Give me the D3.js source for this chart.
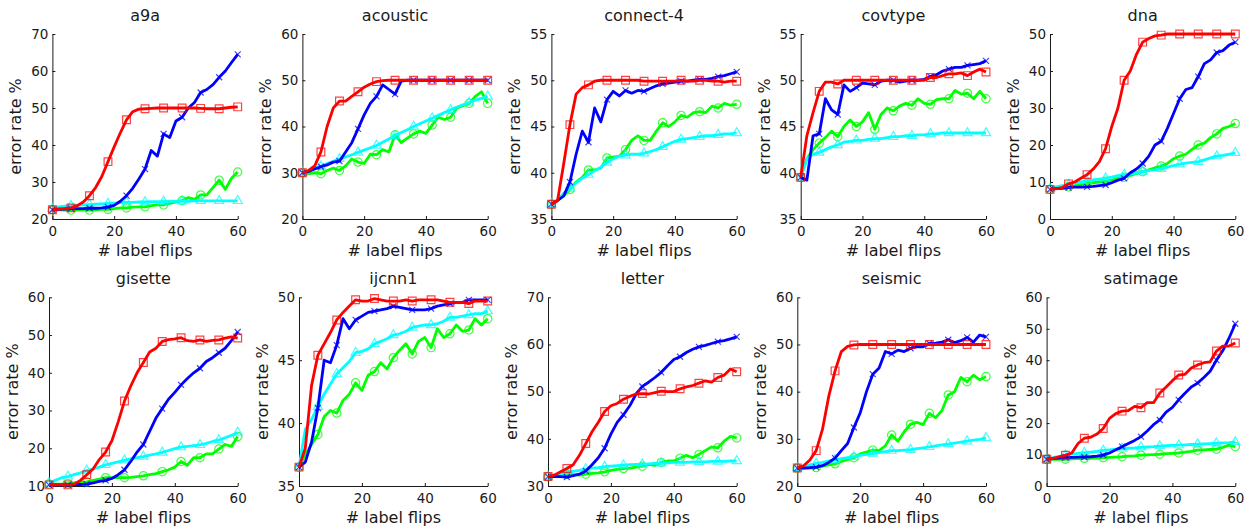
<!DOCTYPE html>
<html>
<head>
<meta charset="utf-8">
<script src="https://cdn.jsdelivr.net/npm/d3@7"></script>
<style>
body { margin: 0; background: #fff; }
</style>
</head>
<body>
<div id="chart"></div>
<script>
const width = 1253
const height = 529

// x values (number of label flips), one sample every 2 flips
const flips = [0, 2, 4, 6, 8, 10, 12, 14, 16, 18, 20, 22, 24, 26, 28, 30,
    32, 34, 36, 38, 40, 42, 44, 46, 48, 50, 52, 54, 56, 58, 60]
const xTicks = [0, 20, 40, 60]

const datasets = ["a9a", "acoustic", "connect-4", "covtype", "dna",
    "gisette", "ijcnn1", "letter", "seismic", "satimage"]
const yDomains = [[20, 70], [20, 60], [35, 55], [35, 55], [0, 50],
    [10, 60], [35, 50], [30, 70], [20, 60], [0, 60]]
const yTicks = [
    [20, 30, 40, 50, 60, 70],
    [20, 30, 40, 50, 60],
    [35, 40, 45, 50, 55],
    [35, 40, 45, 50, 55],
    [0, 10, 20, 30, 40, 50],
    [10, 20, 30, 40, 50, 60],
    [35, 40, 45, 50],
    [30, 40, 50, 60, 70],
    [20, 30, 40, 50, 60],
    [0, 10, 20, 30, 40, 50, 60],
]

// red squares, one row per dataset
const redSeries = [
    [22.5,22.7,22.8,23.0,23.6,24.6,26.3,28.5,31.5,35.5,39.5,43.3,46.8,49.0,49.7,49.8,49.9,50,50,50,50,50,50,50,49.9,49.8,49.8,49.8,50,50.2,50.3],
    [30,30.5,31.5,34.5,40,44,45.5,45.5,46.5,47.5,48.5,49.2,49.7,49.9,50,50,50,50,50,50,50,50,50,50,50,50,50,50,50,50,50],
    [36.6,37,41,45.2,48.5,49.2,49.5,49.9,50,50,50,50,50,50,50,49.9,49.9,49.9,49.9,49.9,49.9,50,49.9,49.9,50,50,49.9,49.9,49.8,49.9,49.9],
    [39.5,44,46.5,48.8,49.8,49.8,49.6,50,50,50,50,50,50,50,50,50,50,50,50,50,50,50.3,50.3,50.5,50.7,50.7,50.8,50.5,50.9,51.2,50.9],
    [8,8.2,8.5,9.5,10,11,12,13.5,15.5,19,25,30,37.5,40,44.5,47.8,48.8,49.5,49.7,50,50,50,50,50,50,50,50,50,50,50,50],
    [10.3,10.3,10.3,10.3,10.5,11.5,13,14.5,17,19,22,27,32.5,36.5,40,42.7,45.5,46.5,48.3,48.8,49,49.3,48.5,48.3,48.7,48.3,48.6,48.7,49.2,49.5,49.2],
    [36.5,38,43,45.4,46.3,47.2,48.2,48.8,49.3,49.8,49.7,49.7,49.9,49.8,49.7,49.7,49.7,49.8,49.7,49.8,49.8,49.8,49.8,49.7,49.6,49.6,49.6,49.5,49.7,49.7,49.7],
    [32,32.3,33,33.7,34.5,36.5,39,41.5,43.5,45.8,47,47.5,48.4,49,49.5,49.6,49.5,49.8,50.1,50,50,50.6,51,51.3,51.8,52.3,52,53,53.5,54.8,54.2],
    [23.8,24.3,25.5,27.5,32,39,44.4,48.5,49.6,49.9,50,50,50,50,50,50,50,50,50,50,50,50,50,50,50,50,50,50,50,50,50],
    [8.5,8.8,9.3,9.8,10.5,13.5,15.2,15.5,16.5,18.3,21.5,23,23.8,24,25.3,24.9,26.5,26.5,29.6,31.5,33.5,35.3,35.5,37.5,38.5,39.2,39.5,42.9,44.5,44.5,45.5],
]

// blue crosses
const blueSeries = [
    [22.5,22.6,22.7,22.8,22.8,22.8,22.9,22.9,23,23.2,23.7,24.8,26.3,28.3,30.8,33.5,38.5,37,43,42,46.5,47.5,50,51.5,54.2,55,56.3,58.3,60,62.3,64.5],
    [30,30.3,30.8,31.3,31.7,32.3,32.5,34.5,36.5,39.5,42.5,45,46.5,49,48,47,49.8,50,50,50,50,50,50,50,50,50,50,50,50,50,50],
    [36.6,37,37.5,39,42,44.5,43.3,47,45.5,47.9,48.8,48.3,48.9,48.6,48.9,48.8,49.1,49.4,49.6,49.7,49.8,49.9,49.9,50,50.1,50.1,50.2,50.4,50.5,50.7,50.9],
    [39.5,39.2,44,44.2,48,46.8,46.3,49.5,48.8,49.2,49.7,49.6,49.5,49.9,50,50,49.8,49.9,50,50,50.1,50.4,50.6,51,51.2,51.4,51.4,51.6,51.7,51.8,52.1],
    [8,8.2,8.3,8.5,8.6,8.6,8.7,8.8,9,9.2,9.8,10.5,11,12.5,13.5,15,17,20,21,24.5,28.5,32.5,35,35.5,38.5,42,43,45,45.5,47,47.8],
    [10.3,10.3,10.3,10.3,10.4,10.4,10.5,10.8,11.2,11.5,12,13,14.3,16.5,19,21,24.5,28,30.5,33,34.8,36.8,38.5,40,41.2,43,44,45.3,46.5,48.5,50.8],
    [36.5,36.9,38.5,41.2,45,44.8,46.2,48.3,47.5,48.2,48.5,48.8,48.9,49,49.1,49.3,49.2,49.1,49,49,49,49.1,49.3,49.4,49.5,49.6,49.6,49.8,49.8,49.8,49.8],
    [32,32,32,31.9,32.2,32.5,33.2,34.5,36,38,41,43.5,45.1,47,49.5,51.1,52,53,54.1,55.5,56.8,57.4,58.3,59,59.5,59.8,60.2,60.6,60.8,61.2,61.6],
    [23.8,23.8,23.9,24,24.3,25,25.9,27.5,29,32.4,35.5,40,43.7,45,48.5,48,48.8,48.5,49.2,49.5,49.5,50.2,50.3,50.5,51,50.4,50.8,51.5,50.5,52,51.6],
    [8.5,8.7,8.9,9,9.1,9.2,9.2,9.3,9.5,9.8,10.5,11.5,12.5,13.5,14.5,15.7,17.5,19.5,21,23.5,25,27.4,29.5,31.5,32.7,34.5,36.5,40,43,47,51.6],
]

// green circles
const greenSeries = [
    [22.5,22.5,22.4,22.4,22.5,22.5,22.4,22.5,22.6,22.6,22.8,23,23,23.2,23.3,23.3,23.6,23.8,23.8,24.2,24.6,25,25.8,25.3,26.5,26.5,28.5,30.5,28,31,32.7],
    [30,29.8,30,29.8,30.5,31,30.5,31.5,33,32.3,32,34,33.9,35,34.5,38.2,36.5,37.5,38.4,39,38.5,40.3,42,41.5,42,44,44.5,45,46.5,47.5,45],
    [36.6,37,37.5,38.2,39,39.5,40.3,40.3,40.5,41.6,41.7,41.8,42.5,43.5,44,43.5,43.5,44.5,45.4,45,45.5,46.2,46,46.5,46.6,46.5,47.2,47,47.5,47.3,47.4],
    [39.5,41.5,42.5,43.2,43.8,44.5,43.9,45,45.7,45,45.5,46.5,44.7,46.3,47,46.7,47.2,47.5,47.3,48,47.5,47.4,47.9,48,48,48.9,48.5,48.6,48,48.8,48],
    [8,8.2,8.5,8.7,9,9.3,9.6,9.8,10,10.2,10.5,11,11.3,11.8,12.3,12.8,13.3,13.8,14.3,15,16.3,17,17.5,18.8,20,20.5,22,23,24.5,25,25.8],
    [10.5,10.5,10.5,10.6,10.8,11,11.1,11.5,11.8,12.2,12.2,12.2,12.2,12.3,12.5,12.7,13,13.3,13.8,14.3,15,16.5,15.5,17.5,17.5,18.5,18.5,19.8,21,20.5,23.1],
    [36.5,37.5,38.3,39.1,40.5,41,40.8,41.8,42.3,43.2,42.6,43.8,44.1,44.8,44.3,45.2,45.8,46.3,45.5,46.5,46.8,46,47.5,46.8,47.1,47.8,47.3,47.4,48.3,47.8,48.3],
    [32,32.2,32.3,32.5,32.4,32.3,32.5,32.7,32.8,33,33.3,33.5,33.7,33.8,34,34.2,34.6,34.4,35,35.3,35.3,35.9,36.5,36,36.7,37.5,38.3,38.1,39.5,40.5,40.2],
    [23.8,23.8,23.8,23.9,24.2,24.5,24.7,25.2,25.6,26,26.8,27.2,27.6,27.5,28.5,30.8,29.5,31.5,33.1,33.5,33,35.4,34.5,36,39.3,40,43,42.1,43.5,42.5,43.2],
    [8.5,8.5,8.5,8.5,8.6,8.7,8.8,8.8,8.9,9,9.1,9.2,9.3,9.5,9.6,9.8,9.9,10,10.1,10.3,10.4,10.5,10.8,11,11.4,11.5,11.6,11.7,12.3,13,12.5],
]

// cyan triangles
const cyanSeries = [
    [22.8,23.3,23.5,23.6,23.7,23.8,23.9,24,24.1,24.2,24.3,24.4,24.5,24.5,24.6,24.6,24.7,24.7,24.7,24.8,24.8,24.8,24.8,24.9,24.9,24.9,24.9,24.9,24.9,24.9,24.9],
    [30,30.5,31,31.4,32,32.5,33,33.4,33.9,34.4,34.9,35.4,35.9,36.6,37.3,38,38.7,39.3,40,40.6,41.2,41.8,42.4,43,43.6,44.2,44.7,45.2,45.7,46.1,46.5],
    [36.6,37,37.8,38.3,38.9,39.4,39.8,40.2,40.6,41.1,41.5,41.8,41.9,42,42,42.1,42.3,42.5,42.8,43.1,43.4,43.6,43.7,43.8,43.9,44,44,44.1,44.2,44.2,44.3],
    [39.5,41.5,42,42.2,42.5,42.8,43,43.3,43.4,43.5,43.5,43.6,43.7,43.7,43.8,43.9,43.9,44,44,44.1,44.1,44.2,44.2,44.3,44.3,44.3,44.3,44.3,44.3,44.3,44.3],
    [8.2,8.7,9,9.3,9.7,10,10.3,10.6,10.8,11,11.3,11.7,12,12.2,12.5,12.8,13.1,13.3,13.6,14,14.4,14.8,15.1,15.3,15.5,16,16.5,17,17.2,17.5,17.9],
    [10.8,11.5,12.2,12.5,13,13.5,14.1,14.5,15,15.6,16,16.4,16.8,17.2,17.5,17.8,18.2,18.5,18.9,19.4,19.9,20.3,20.5,20.7,20.9,21.3,21.8,22.2,22.8,23.4,24.2],
    [36.5,39.5,40.3,41.3,42.3,43.1,43.9,44.4,44.9,45.6,45.7,45.9,46.3,46.5,46.7,47,47.1,47.3,47.6,47.7,47.8,47.8,47.9,48.1,48.4,48.4,48.5,48.6,48.7,48.7,48.9],
    [32,32.3,32.6,32.9,33.1,33.3,33.6,33.8,33.9,34.1,34.2,34.3,34.4,34.5,34.6,34.6,34.7,34.8,34.8,34.9,35,35,35,35.1,35.1,35.1,35.2,35.2,35.2,35.3,35.3],
    [23.8,24.2,24.5,24.8,25,25.3,25.5,25.8,26,26.2,26.5,26.7,26.9,27.1,27.3,27.5,27.5,27.6,27.7,27.9,28.1,28.3,28.5,28.7,28.9,29.1,29.3,29.5,29.7,29.9,30.2],
    [8.5,9,9.4,9.8,10.1,10.4,10.6,10.8,11,11.3,11.5,11.7,11.9,12,12.1,12.3,12.4,12.5,12.7,12.8,12.9,13,13.1,13.2,13.3,13.4,13.5,13.6,13.7,13.8,14],
]

// draw order: green, cyan, blue, red (red ends on top)
const seriesList = [
    { values: greenSeries, color: "#00ff00", marker: "circle" },
    { values: cyanSeries, color: "#00ffff", marker: "triangle" },
    { values: blueSeries, color: "#0000ff", marker: "cross" },
    { values: redSeries, color: "#ff0000", marker: "square" },
]

// panel frame positions
const colRight = [237.7, 487.7, 736.7, 986, 1235.3]
const rowTop = [34, 297.3]
const rowBottom = [219, 486]
const rowWidth = [185.3, 188.7]

const font = "'DejaVu Sans', sans-serif"
const ink = "#1a1a1a"

const svg = d3.select("#chart")
    .append("svg")
    .attr("width", width)
    .attr("height", height)
    .attr("viewBox", [0, 0, width, height])
    .style("font-family", font)

svg.append("rect").attr("width", width).attr("height", height).attr("fill", "#fff")

const markerPath = {
    circle: d3.symbol(d3.symbolCircle, 54)(),
    square: d3.symbol(d3.symbolSquare, 60)(),
    triangle: d3.symbol(d3.symbolTriangle, 36)(),
    cross: "M-3,-3L3,3M-3,3L3,-3",
}

datasets.forEach((name, i) => {
    const r = Math.floor(i / 5)
    const c = i % 5
    const right = colRight[c]
    const left = right - rowWidth[r]
    const top = rowTop[r]
    const bottom = rowBottom[r]

    const x = d3.scaleLinear().domain([0, 60]).range([left, right])
    const y = d3.scaleLinear().domain(yDomains[i]).range([bottom, top])

    const g = svg.append("g")

    // axes, ticks pointing inward like MATLAB
    const xAxis = g.append("g")
        .attr("transform", `translate(0,${bottom})`)
        .call(d3.axisBottom(x).tickValues(xTicks).tickSizeInner(-3).tickSizeOuter(0).tickPadding(7.5))
    const yAxis = g.append("g")
        .attr("transform", `translate(${left},0)`)
        .call(d3.axisLeft(y).tickValues(yTicks[i]).tickSizeInner(-3).tickSizeOuter(0).tickPadding(4))
    ;[xAxis, yAxis].forEach((a) => {
        a.select(".domain").attr("stroke", ink).attr("stroke-width", 1)
        a.selectAll(".tick line").attr("stroke", ink)
        a.selectAll(".tick text")
            .attr("fill", ink)
            .style("font-family", font)
            .style("font-size", "13.5px")
    })

    const line = d3.line()
        .x((d, j) => x(flips[j]))
        .y((d) => y(d))

    seriesList.forEach((s) => {
        const vals = s.values[i]
        g.append("path")
            .attr("d", line(vals))
            .attr("fill", "none")
            .attr("stroke", s.color)
            .attr("stroke-width", 2.8)
            .attr("stroke-linejoin", "round")

        const marks = flips
            .map((f, j) => ({ f, v: vals[j] }))
            .filter((d) => d.f % 6 === 0)
        g.selectAll(null)
            .data(marks)
            .join("path")
            .attr("transform", (d) => `translate(${x(d.f)},${y(d.v)})`)
            .attr("d", markerPath[s.marker])
            .attr("fill", "none")
            .attr("stroke", s.color)
            .attr("stroke-opacity", 0.75)
            .attr("stroke-width", 1.2)
    })

    g.append("text")
        .attr("x", (left + right) / 2)
        .attr("y", top - 13)
        .attr("text-anchor", "middle")
        .attr("fill", ink)
        .style("font-size", "16px")
        .text(name)

    g.append("text")
        .attr("x", (left + right) / 2)
        .attr("y", bottom + 36.5)
        .attr("text-anchor", "middle")
        .attr("fill", ink)
        .style("font-size", "16px")
        .text("# label flips")

    g.append("text")
        .attr("transform", `translate(${left - 31},${(top + bottom) / 2}) rotate(-90)`)
        .attr("text-anchor", "middle")
        .attr("fill", ink)
        .style("font-size", "16px")
        .text("error rate %")
})
</script>
</body>
</html>
